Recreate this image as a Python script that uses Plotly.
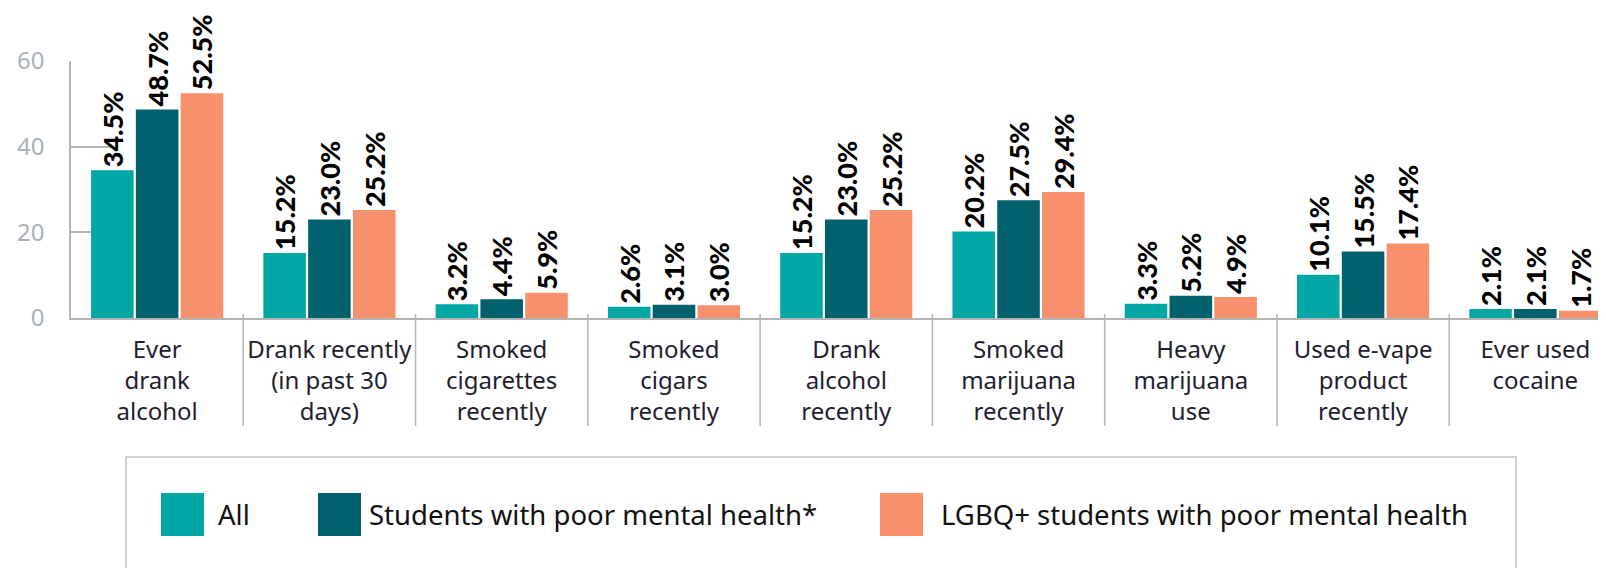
import plotly.graph_objects as go

categories = [
    "Ever<br>drank<br>alcohol",
    "Drank recently<br>(in past 30<br>days)",
    "Smoked<br>cigarettes<br>recently",
    "Smoked<br>cigars<br>recently",
    "Drank<br>alcohol<br>recently",
    "Smoked<br>marijuana<br>recently",
    "Heavy<br>marijuana<br>use",
    "Used e-vape<br>product<br>recently",
    "Ever used<br>cocaine",
]
series_names = ["All", "Students with poor mental health*", "LGBQ+ students with poor mental health"]
all_students = [34.5, 15.2, 3.2, 2.6, 15.2, 20.2, 3.3, 10.1, 2.1]
poor_mh = [48.7, 23.0, 4.4, 3.1, 23.0, 27.5, 5.2, 15.5, 2.1]
lgbq_poor_mh = [52.5, 25.2, 5.9, 3.0, 25.2, 29.4, 4.9, 17.4, 1.7]
y_ticks = [0, 20, 40, 60]

colors = ["#00A7A5", "#00606C", "#F7906C"]
series_values = [all_students, poor_mh, lgbq_poor_mh]

# page body has an 8px margin; the figure is sized so it ends at the window edge
OFF = 8
W, H = 1606 - OFF, 568 - OFF
PLOT_LEFT, PLOT_TOP, PLOT_BOTTOM = 71, 61, 318  # page pixels
L, R, T = PLOT_LEFT - OFF, 0, PLOT_TOP - OFF
B = H - (PLOT_BOTTOM - OFF)
PW, PH = W - L - R, H - T - B


def px(p):
    return (p - PLOT_LEFT) / PW


def py(p):
    return (PLOT_BOTTOM - p) / PH


fig = go.Figure()
for name, vals, col in zip(series_names, series_values, colors):
    fig.add_trace(go.Bar(
        x=list(range(len(categories))), y=vals, name=name,
        marker=dict(color=col, line=dict(width=0)),
        texttemplate="%{y:.1f}%", textposition="outside", textangle=-90,
        constraintext="none", cliponaxis=False,
        textfont=dict(family="Lato", size=27, color="#000000", weight=900),
        hoverinfo="skip",
    ))

shapes = []
# category separators
for i in range(len(categories) - 1):
    shapes.append(dict(type="line", xref="x", yref="paper", x0=i + 0.5, x1=i + 0.5,
                       y0=py(314), y1=py(426), line=dict(color="#b4b4b4", width=1.5)))
# legend box
shapes.append(dict(type="rect", xref="paper", yref="paper", x0=px(126), x1=px(1516),
                   y0=py(457), y1=py(620), line=dict(color="#c4c4c4", width=1.5),
                   fillcolor="rgba(0,0,0,0)"))
annotations = []
sq_x = [161, 318, 880]
txt_x = [216, 367, 939]
for sx, tx, name, col in zip(sq_x, txt_x, series_names, colors):
    shapes.append(dict(type="rect", xref="paper", yref="paper", x0=px(sx), x1=px(sx + 43),
                       y0=py(493), y1=py(536), line=dict(width=0), fillcolor=col))
    annotations.append(dict(xref="paper", yref="paper", x=px(tx), y=py(514), text=name,
                            showarrow=False, xanchor="left", yanchor="middle",
                            font=dict(family="Noto Sans", size=27.5, color="#111111")))

fig.update_layout(
    width=W, height=H,
    margin=dict(l=L, r=R, t=T, b=B, pad=0),
    paper_bgcolor="white", plot_bgcolor="white",
    barmode="group", bargap=0.22, bargroupgap=0.05,
    showlegend=False,
    shapes=shapes, annotations=annotations,
    font=dict(family="Noto Sans"),
)
fig.update_xaxes(
    tickmode="array", tickvals=list(range(len(categories))), ticktext=categories,
    range=[-0.5, 8.41], showgrid=False, zeroline=False,
    showline=True, linecolor="#b4b4b4", linewidth=1.5, ticks="",
    tickfont=dict(family="Noto Sans", size=24, color="#1e1e30"),
    ticklabelstandoff=9,
)
fig.update_yaxes(
    range=[0, 60], tickvals=y_ticks, showgrid=False, zeroline=False,
    showline=True, linecolor="#b4b4b4", linewidth=1.5,
    ticks="inside", ticklen=41, tickwidth=1.5, tickcolor="#b4b4b4",
    tickfont=dict(family="Noto Sans", size=24, color="#a8b0be"),
    ticklabelstandoff=20, layer="below traces",
)

fig.write_html("out.html")
